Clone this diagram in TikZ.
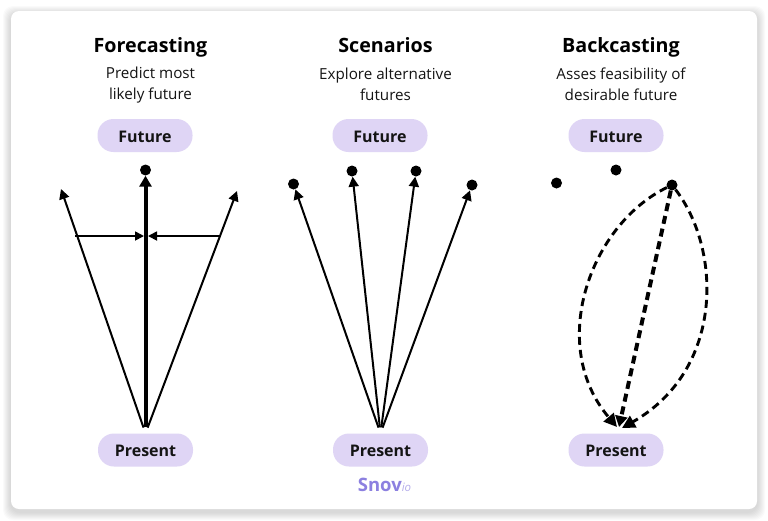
\documentclass[tikz,border=0pt]{standalone}
\usepackage{fontspec}
\setmainfont{Open Sans}
\usetikzlibrary{arrows.meta}
\definecolor{pillColor}{HTML}{DFD5F5}
\definecolor{snovColor}{HTML}{8C80E0}
\definecolor{ioColor}{HTML}{B5ADEB}
\definecolor{textColor}{HTML}{141414}
\begin{document}
\begin{tikzpicture}[x = 1pt, y = -1pt]
\tikzstyle{titleStyle} = [font = \fontsize{19.7}{24}\selectfont\bfseries, text = black, inner sep = 0pt, anchor = base]
\tikzstyle{subStyle} = [font = \fontsize{15.2}{21}\selectfont, text = textColor, align = center, inner sep = 0pt]
\tikzstyle{pillStyle} = [rounded corners = 16pt, fill = pillColor, minimum width = 95pt, minimum height = 33pt, inner sep = 0pt, font = \fontsize{16}{19}\selectfont\bfseries, text = textColor, text height = 13.5pt, text depth = 0pt]
\tikzstyle{dotStyle} = [shape = circle, fill = black, minimum size = 11pt, inner sep = 0pt]
\tikzstyle{arrowStyle} = [line width = 2pt, -{Triangle[length = 10pt, width = 10pt]}, shorten < = 6pt]
\tikzstyle{boldStyle} = [line width = 4pt, -{Triangle[length = 11pt, width = 12pt]}, shorten < = 6pt]
\tikzstyle{crossStyle} = [line width = 1.7pt, -{Triangle[length = 9pt, width = 9pt]}]
\tikzstyle{dashStyle} = [line width = 2.9pt, dash pattern = on 8pt off 5pt, -{Triangle[length = 13pt, width = 13pt]}]
\useasboundingbox (0,0) rectangle (768,520);
% card with soft shadow
\foreach \g in {8,7,6,5,4,3,2,1}
  \fill[black, opacity = 0.018, rounded corners = 10pt] (11-\g,11-\g+3) rectangle (757+\g,509+\g+3);
\fill[white, rounded corners = 8pt] (11,11) rectangle (757,509);

% forecasting
\node[titleStyle] (fTitle) at (150.5,52) {Forecasting};
\node[subStyle] (fSub) at (150.5,85) {Predict most\\likely future};
\node[pillStyle] (fFuture) at (145,135.5) {Future};
\node[pillStyle] (fPresent) at (145.5,450) {Present};
\node[dotStyle] (fDot) at (145.5,170) {};
\coordinate (fLeft) at (61,189);
\coordinate (fRight) at (237,191);
\coordinate (fCrossL) at (75,236);
\coordinate (fCrossR) at (219,236);
\coordinate (fMidL) at (144,236);
\coordinate (fMidR) at (148,236);
\draw[arrowStyle] (fPresent.north) -- (fLeft);
\draw[arrowStyle] (fPresent.north) -- (fRight);
\draw[boldStyle] (fPresent.north) -- (fDot);
\draw[crossStyle] (fCrossL) -- (fMidL);
\draw[crossStyle] (fCrossR) -- (fMidR);

% scenarios
\node[titleStyle] (sTitle) at (385.5,52) {Scenarios};
\node[subStyle] (sSub) at (385.5,84) {Explore alternative\\futures};
\node[pillStyle] (sFuture) at (380,135.5) {Future};
\node[pillStyle] (sPresent) at (380.5,450) {Present};
\node[dotStyle] (s0) at (293.5,184) {};
\node[dotStyle] (s1) at (352,171) {};
\node[dotStyle] (s2) at (416,171) {};
\node[dotStyle] (s3) at (472,185) {};
\draw[arrowStyle] (sPresent.north) -- (s0);
\draw[arrowStyle] (sPresent.north) -- (s1);
\draw[arrowStyle] (sPresent.north) -- (s2);
\draw[arrowStyle] (sPresent.north) -- (s3);

% backcasting
\node[titleStyle] (bTitle) at (621,52) {Backcasting};
\node[subStyle] (bSub) at (621,84) {Asses feasibility of\\desirable future};
\node[pillStyle] (bFuture) at (616,135.5) {Future};
\node[pillStyle] (bPresent) at (616,450) {Present};
\node[dotStyle] (b0) at (556.5,183) {};
\node[dotStyle] (b1) at (616,170) {};
\node[dotStyle] (b2) at (672,185) {};
\coordinate (bEndL) at (617,427);
\coordinate (bEndM) at (619,427);
\coordinate (bEndR) at (622,428);
\draw[dashStyle] (b2) .. controls (590,225) and (547,345) .. (bEndL);
\draw[dashStyle, line width = 4pt, -{Triangle[length = 11pt, width = 12pt]}] (b2) -- (bEndM);
\draw[dashStyle] (b2) .. controls (722,250) and (724,370) .. (bEndR);

\node[inner sep = 0pt, font = \fontsize{18.5}{22}\selectfont\bfseries, text = snovColor] (snov) at (384.5,485) {Snov{\fontsize{11.5}{14}\selectfont\mdseries\itshape\color{ioColor}io}};
\end{tikzpicture}
\end{document}
